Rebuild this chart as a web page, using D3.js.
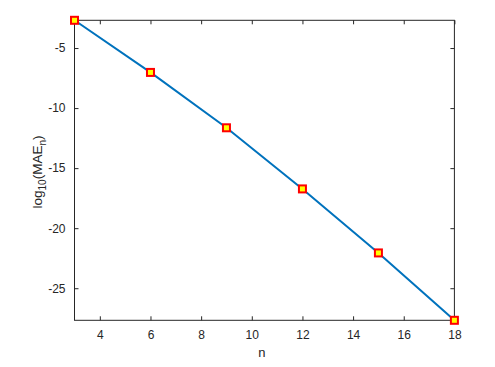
<!DOCTYPE html>
<html>
<head>
<meta charset="utf-8">
<script src="https://cdn.jsdelivr.net/npm/d3@7"></script>
<style>
  body { margin: 0; background: #fff; }
  text { font-family: "Liberation Sans", Arial, sans-serif; }
</style>
</head>
<body>
<div id="chart"></div>
<script>
// n values and log10 of the mean absolute error
const nVals = [3, 6, 9, 12, 15, 18];
const logMAE = [-2.69, -7.03, -11.64, -16.73, -22.06, -27.67];
const xTicks = [4, 6, 8, 10, 12, 14, 16, 18];
const yTicks = [-5, -10, -15, -20, -25];

const width = 495, height = 367;
const m = {t: 20.3, r: 40.6, b: 46.7, l: 74.5};
const w = width - m.l - m.r;
const h = height - m.t - m.b;
const axisColor = '#262626';

const svg = d3.select('#chart').append('svg')
    .attr('width', width)
    .attr('height', height);

const g = svg.append('g')
    .attr('transform', 'translate(' + m.l + ',' + m.t + ')');

const x = d3.scaleLinear().domain([3, 18]).range([0, w]);
const y = d3.scaleLinear().domain([d3.min(logMAE), d3.max(logMAE)]).range([h, 0]);

// box
g.append('rect')
    .attr('width', w).attr('height', h)
    .attr('fill', 'none')
    .attr('stroke', axisColor)
    .attr('stroke-width', 1);

// bottom / left axes with inward ticks, plus mirrored ticks top / right
const styleAxis = sel => {
    sel.select('.domain').remove();
    sel.selectAll('line').attr('stroke', axisColor);
    sel.selectAll('text')
        .attr('fill', axisColor)
        .style('font-size', '12px');
};
const fmt = d => String(d); // plain hyphen minus like the original

g.append('g')
    .attr('transform', 'translate(0,' + h + ')')
    .call(d3.axisBottom(x).tickValues(xTicks).tickFormat(fmt).tickSizeInner(-4).tickPadding(10))
    .call(styleAxis);

g.append('g')
    .call(d3.axisTop(x).tickValues(xTicks).tickSizeInner(-4).tickFormat(''))
    .call(styleAxis);

g.append('g')
    .call(d3.axisLeft(y).tickValues(yTicks).tickFormat(fmt).tickSizeInner(-4).tickPadding(9))
    .call(styleAxis);

g.append('g')
    .attr('transform', 'translate(' + w + ',0)')
    .call(d3.axisRight(y).tickValues(yTicks).tickSizeInner(-4).tickFormat(''))
    .call(styleAxis);

const pts = nVals.map((n, i) => ({n: n, v: logMAE[i]}));

// line
g.append('path')
    .datum(pts)
    .attr('fill', 'none')
    .attr('stroke', '#0072BD')
    .attr('stroke-width', 2)
    .attr('d', d3.line().x(d => x(d.n)).y(d => y(d.v)));

// markers
g.selectAll('.mk').data(pts)
    .enter()
    .append('rect')
    .attr('class', 'mk')
    .attr('x', d => x(d.n) - 3.5)
    .attr('y', d => y(d.v) - 3.5)
    .attr('width', 7)
    .attr('height', 7)
    .attr('fill', '#FFFF00')
    .attr('stroke', '#FF0000')
    .attr('stroke-width', 2);

// axis labels
svg.append('text')
    .attr('x', m.l + x(10.4))
    .attr('y', 357)
    .attr('text-anchor', 'middle')
    .attr('fill', axisColor)
    .style('font-size', '13px')
    .text('n');

const yl = svg.append('text')
    .attr('transform', 'translate(42,172) rotate(-90)')
    .attr('text-anchor', 'middle')
    .attr('fill', axisColor)
    .style('font-size', '13.5px');
yl.append('tspan').text('log');
yl.append('tspan').attr('dy', 4).style('font-size', '10px').text('10');
yl.append('tspan').attr('dy', -4).text('(MAE');
yl.append('tspan').attr('dy', 4).style('font-size', '10px').text('n');
yl.append('tspan').attr('dy', -4).text(')');
</script>
</body>
</html>
